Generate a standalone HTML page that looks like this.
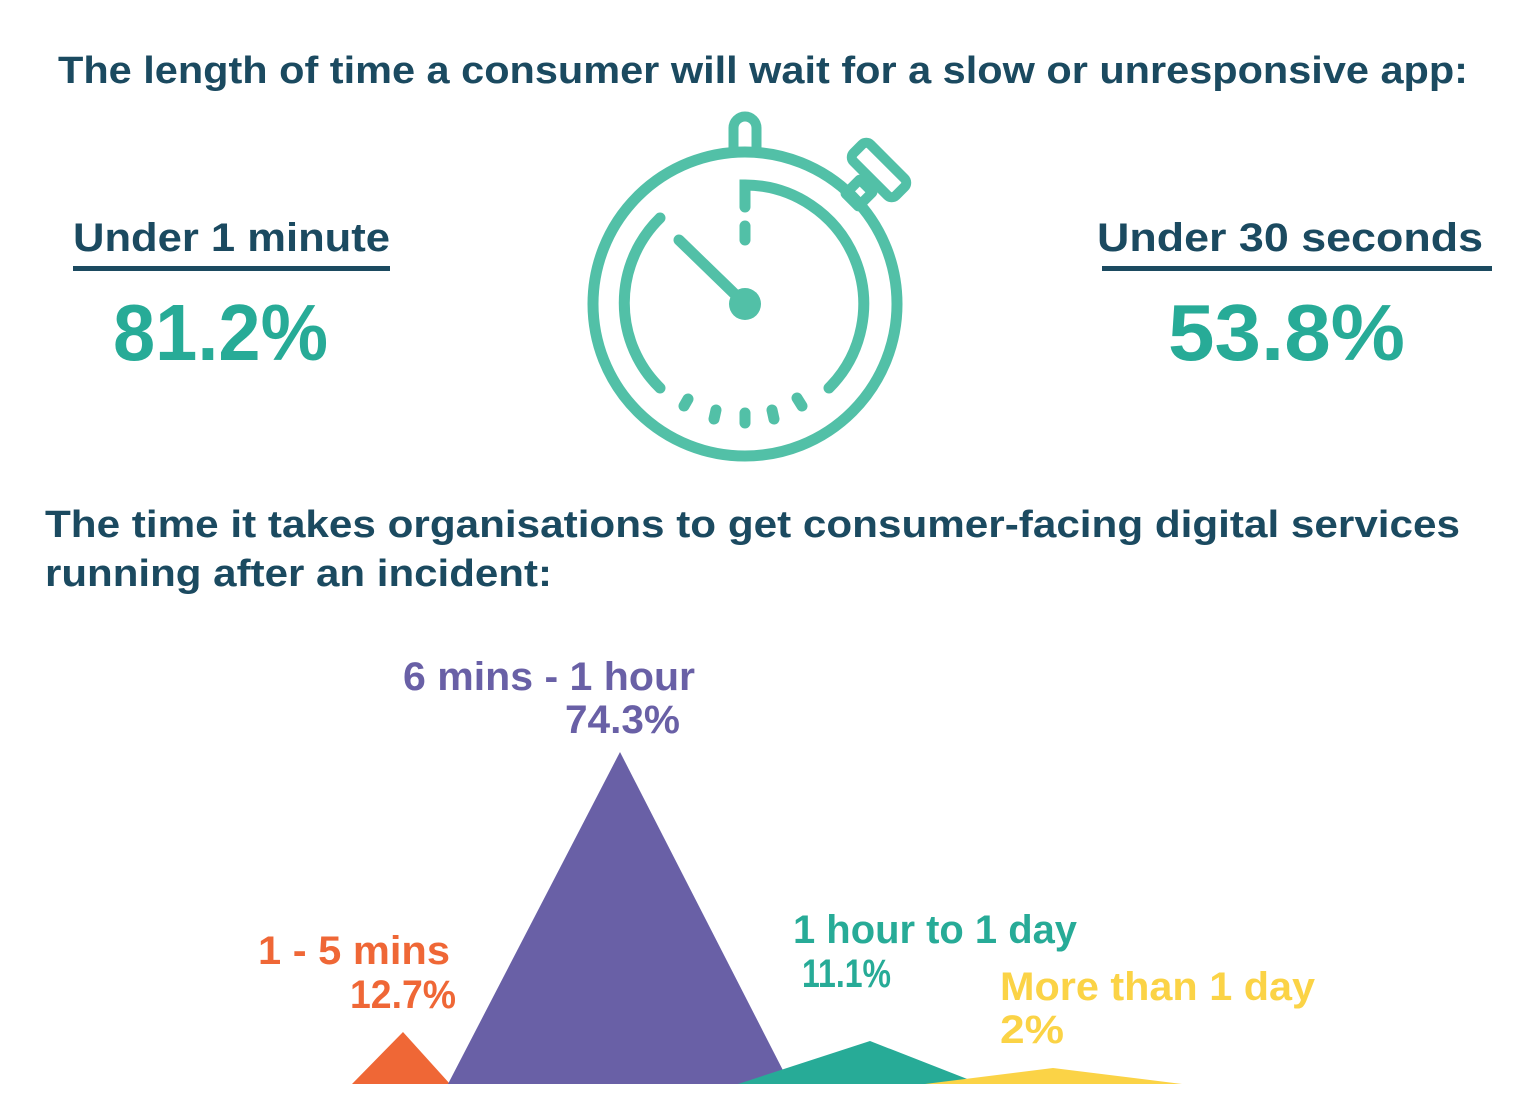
<!DOCTYPE html>
<html><head><meta charset="utf-8"><style>
html,body{margin:0;padding:0;background:#fff;}
svg{display:block;}
text{font-family:"Liberation Sans",sans-serif;font-weight:bold;}
</style></head><body>
<svg width="1524" height="1102" viewBox="0 0 1524 1102" xmlns="http://www.w3.org/2000/svg">
<rect width="1524" height="1102" fill="#fff"/>
<g fill="#1b4a60">
<text x="58" y="83" font-size="38" textLength="1410" lengthAdjust="spacingAndGlyphs">The length of time a consumer will wait for a slow or unresponsive app:</text>
<text x="73" y="251" font-size="40" textLength="317" lengthAdjust="spacingAndGlyphs">Under 1 minute</text>
<rect x="73" y="266" width="317" height="5"/>
<text x="1097" y="251" font-size="40" textLength="386" lengthAdjust="spacingAndGlyphs">Under 30 seconds</text>
<rect x="1102" y="266" width="390" height="5"/>
<text x="45" y="537" font-size="38" textLength="1415" lengthAdjust="spacingAndGlyphs">The time it takes organisations to get consumer-facing digital services</text>
<text x="45" y="586" font-size="38" textLength="507" lengthAdjust="spacingAndGlyphs">running after an incident:</text>
</g>
<g fill="#27ab97">
<text x="113" y="360" font-size="80" textLength="215" lengthAdjust="spacingAndGlyphs">81.2%</text>
<text x="1168" y="360" font-size="80" textLength="237" lengthAdjust="spacingAndGlyphs">53.8%</text>
</g>
<!-- stopwatch -->
<g fill="none" stroke="#52c0a7" stroke-width="11" stroke-linecap="round">
<circle cx="745" cy="304" r="152"/>
<path d="M733.5 150 V128 a11.5 11.5 0 0 1 23 0 V150" stroke-width="10" stroke-linecap="butt"/>
<path d="M745 207 V185 A119 119 0 0 1 829 388"/>
<path d="M660 218 A119 119 0 0 0 660 388"/>
<path d="M745 226 V240"/>
<path d="M679 240 L745 304"/>
<path d="M688 399 L684 406 M716 410 L714 419 M745 413 V423 M772 410 L774 419 M797 398 L802 406"/>
</g>
<g fill="none" stroke="#52c0a7" stroke-width="10" stroke-linejoin="round">
<g transform="translate(879,170) rotate(-45)">
<rect x="-12" y="-30" width="24" height="60" rx="6"/>
</g>
<g transform="translate(859,193) rotate(-45)">
<rect x="-10" y="-9" width="20" height="18"/>
</g>
</g>
<circle cx="745" cy="304" r="16" fill="#52c0a7"/>
<!-- triangles -->
<polygon points="352,1084 403,1032 450,1084" fill="#ef6736"/>
<polygon points="448,1084 620,752 790,1084" fill="#6960a6"/>
<polygon points="738,1084 870,1041 980,1084" fill="#27ab97"/>
<polygon points="925,1084 1053,1068 1182,1084" fill="#fbd346"/>
<!-- labels -->
<g fill="#6960a6">
<text x="403" y="690" font-size="40" textLength="292" lengthAdjust="spacingAndGlyphs">6 mins - 1 hour</text>
<text x="565" y="733" font-size="40" textLength="115" lengthAdjust="spacingAndGlyphs">74.3%</text>
</g>
<g fill="#ef6736">
<text x="258" y="964" font-size="40" textLength="192" lengthAdjust="spacingAndGlyphs">1 - 5 mins</text>
<text x="350" y="1008" font-size="40" textLength="106" lengthAdjust="spacingAndGlyphs">12.7%</text>
</g>
<g fill="#27ab97">
<text x="793" y="943" font-size="40" textLength="284" lengthAdjust="spacingAndGlyphs">1 hour to 1 day</text>
<text x="802" y="987" font-size="40" textLength="89" lengthAdjust="spacingAndGlyphs">11.1%</text>
</g>
<g fill="#fbd346">
<text x="1000" y="1000" font-size="40" textLength="315" lengthAdjust="spacingAndGlyphs">More than 1 day</text>
<text x="1000" y="1043" font-size="40" textLength="64" lengthAdjust="spacingAndGlyphs">2%</text>
</g>
</svg>
</body></html>
